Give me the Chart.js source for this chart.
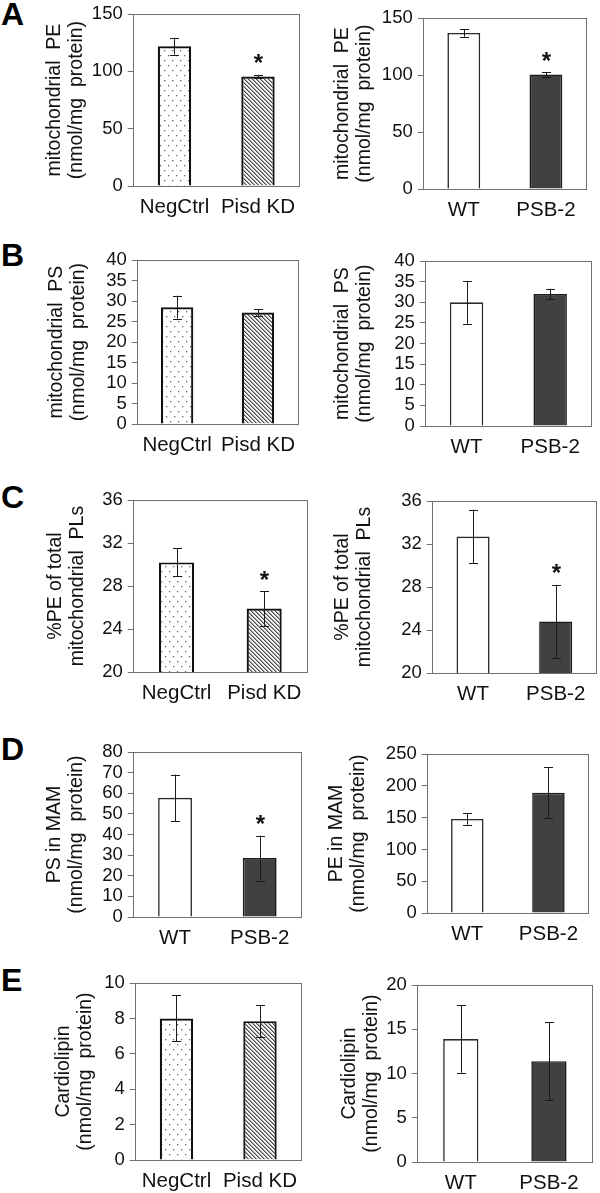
<!DOCTYPE html>
<html lang="en">
<head>
  <meta charset="UTF-8">
  <title>Mitochondrial phospholipids</title>
  <script src="https://cdn.jsdelivr.net/npm/chart.js"></script>
  <style>
    body {
      margin: 0;
      background: #fff;
      font-family: 'Liberation Sans', Arial, sans-serif;
    }
    #fig {
      position: relative;
      width: 600px;
      height: 1193px;
      overflow: hidden;
    }
    #fig canvas {
      position: absolute;
    }
    .letter {
      position: absolute;
      left: 1px;
      font-size: 32px;
      font-weight: bold;
      line-height: 32px;
      color: #000;
    }
  </style>
</head>
<body>
<div id="fig">
  <div class="letter" style="top:-2px">A</div>
  <div class="letter" style="top:239px">B</div>
  <div class="letter" style="top:481px">C</div>
  <div class="letter" style="top:733px">D</div>
  <div class="letter" style="top:964px">E</div>
</div>

<script>
  // categories
  const catsKD = ['NegCtrl', 'Pisd KD'];
  const catsPSB = ['WT', 'PSB-2'];

  // values (mean) and error (+/-)
  const mitoPE_KD = [122, 95.5];
  const mitoPE_KD_err = [7.3, 1.5];
  const mitoPE_PSB = [137, 100.5];
  const mitoPE_PSB_err = [3.4, 2];

  const mitoPS_KD = [28.5, 27.2];
  const mitoPS_KD_err = [2.8, 0.8];
  const mitoPS_PSB = [30, 32];
  const mitoPS_PSB_err = [5.2, 1.3];

  const pctPE_KD = [30.2, 25.9];
  const pctPE_KD_err = [1.3, 1.6];
  const pctPE_PSB = [32.7, 24.8];
  const pctPE_PSB_err = [2.5, 3.4];

  const mamPS_PSB = [57.8, 28.6];
  const mamPS_PSB_err = [11.3, 10.9];
  const mamPE_PSB = [148, 189];
  const mamPE_PSB_err = [9, 40];

  const cl_KD = [8.0, 7.85];
  const cl_KD_err = [1.3, 0.9];
  const cl_PSB = [13.9, 11.4];
  const cl_PSB_err = [3.8, 4.4];

  // significance stars
  const sigNone = [false, false];
  const sigSecond = [false, true];

  // y axis ticks
  const yPE = { min: 0, max: 150, step: 50 };
  const yPS = { min: 0, max: 40, step: 5 };
  const yPct = { min: 20, max: 36, step: 4 };
  const yMamPS = { min: 0, max: 80, step: 10 };
  const yMamPE = { min: 0, max: 250, step: 50 };
  const yClKD = { min: 0, max: 10, step: 2 };
  const yClPSB = { min: 0, max: 20, step: 5 };

  // axis titles
  const tMitoPE = ['mitochondrial  PE', '(nmol/mg  protein)'];
  const tMitoPS = ['mitochondrial  PS', '(nmol/mg  protein)'];
  const tPct = ['%PE of total', 'mitochondrial  PLs'];
  const tMamPS = ['PS in MAM', '(nmol/mg  protein)'];
  const tMamPE = ['PE in MAM', '(nmol/mg  protein)'];
  const tCl = ['Cardiolipin', '(nmol/mg  protein)'];

  // layout: box = plot area [left, top, right, bottom], tx = centre of first title line
  const panels = [
    { cats: catsKD, vals: mitoPE_KD, errs: mitoPE_KD_err, sig: sigSecond, y: yPE, title: tMitoPE, box: [133, 10, 301, 186], tx: 55 },
    { cats: catsPSB, vals: mitoPE_PSB, errs: mitoPE_PSB_err, sig: sigSecond, y: yPE, title: tMitoPE, box: [423, 14, 587, 189], tx: 343 },
    { cats: catsKD, vals: mitoPS_KD, errs: mitoPS_KD_err, sig: sigNone, y: yPS, title: tMitoPS, box: [137, 256, 301, 424], tx: 57 },
    { cats: catsPSB, vals: mitoPS_PSB, errs: mitoPS_PSB_err, sig: sigNone, y: yPS, title: tMitoPS, box: [425, 257, 592, 426], tx: 343 },
    { cats: catsKD, vals: pctPE_KD, errs: pctPE_KD_err, sig: sigSecond, y: yPct, title: tPct, box: [133, 496, 308, 672], tx: 56 },
    { cats: catsPSB, vals: pctPE_PSB, errs: pctPE_PSB_err, sig: sigSecond, y: yPct, title: tPct, box: [432, 497, 597, 673], tx: 343 },
    { cats: catsPSB, vals: mamPS_PSB, errs: mamPS_PSB_err, sig: sigSecond, y: yMamPS, title: tMamPS, box: [133, 748, 302, 917], tx: 55 },
    { cats: catsPSB, vals: mamPE_PSB, errs: mamPE_PSB_err, sig: sigNone, y: yMamPE, title: tMamPE, box: [427, 750, 589, 913], tx: 337 },
    { cats: catsKD, vals: cl_KD, errs: cl_KD_err, sig: sigNone, y: yClKD, title: tCl, box: [135, 979, 303, 1160], tx: 64 },
    { cats: catsPSB, vals: cl_PSB, errs: cl_PSB_err, sig: sigNone, y: yClPSB, title: tCl, box: [417, 981, 593, 1162], tx: 350 }
  ];

  const FONT = "'Liberation Sans', Arial, sans-serif";
  Chart.defaults.font.family = FONT;
  Chart.defaults.color = '#111';

  function makePattern(ctx, kind) {
    const c = document.createElement('canvas');
    const g = c.getContext('2d');
    if (kind === 'dots') {
      c.width = 8; c.height = 10;
      g.fillStyle = '#fff'; g.fillRect(0, 0, 8, 10);
      g.fillStyle = '#6a6a6a';
      g.fillRect(1, 2, 1.3, 1.3);
      g.fillRect(5, 7, 1.3, 1.3);
    } else {
      c.width = 4; c.height = 4;
      g.fillStyle = '#f4f4f4'; g.fillRect(0, 0, 4, 4);
      g.fillStyle = '#4a4a4a';
      for (let i = 0; i < 4; i++) g.fillRect(i, i, 1, 1);
      g.fillStyle = '#a0a0a0';
      for (let i = 0; i < 4; i++) g.fillRect((i + 1) % 4, i, 1, 1);
    }
    return ctx.createPattern(c, 'repeat');
  }

  // plot frame + error bars + stars
  const extras = {
    id: 'extras',
    afterDatasetsDraw(chart, args, opts) {
      const { ctx, chartArea: a } = chart;
      const ys = chart.scales.y;
      const meta = chart.getDatasetMeta(0);
      ctx.save();
      ctx.strokeStyle = '#707070';
      ctx.lineWidth = 1;
      ctx.strokeRect(Math.round(a.left) + 0.5, Math.round(a.top) + 0.5,
        Math.round(a.right - a.left) - 1, Math.round(a.bottom - a.top));
      ctx.strokeStyle = '#1a1a1a';
      ctx.fillStyle = '#111';
      meta.data.forEach((bar, i) => {
        const v = opts.vals[i], e = opts.errs[i];
        const x = Math.round(bar.x) + 0.5;
        const yt = ys.getPixelForValue(v + e);
        const yb = ys.getPixelForValue(v - e);
        ctx.beginPath();
        ctx.moveTo(x, yt); ctx.lineTo(x, yb);
        ctx.moveTo(x - 4.5, Math.round(yt) + 0.5); ctx.lineTo(x + 4.5, Math.round(yt) + 0.5);
        ctx.moveTo(x - 4.5, Math.round(yb) + 0.5); ctx.lineTo(x + 4.5, Math.round(yb) + 0.5);
        ctx.stroke();
        if (opts.sig[i]) {
          ctx.font = 'bold 24px ' + FONT;
          ctx.textAlign = 'center';
          ctx.textBaseline = 'alphabetic';
          ctx.fillText('*', x, yt - 17 + 13.5);
        }
      });
      ctx.restore();
    }
  };

  const styleFor = {
    'NegCtrl': { fill: 'dots', border: '#111', width: 2.2 },
    'Pisd KD': { fill: 'hatch', border: '#111', width: 2.2 },
    'WT': { fill: '#ffffff', border: '#2a2a2a', width: 1.6 },
    'PSB-2': { fill: '#414141', border: '#1a1a1a', width: 1.6 }
  };

  const fig = document.getElementById('fig');
  const titleLH = 1.1, titleSize = 19.5;
  const PT = 12, PR = 4, XH = 40;

  panels.forEach(p => {
    const [l, t, r, b] = p.box;
    const cl = p.tx - titleSize * titleLH / 2 - 1;
    const L = l - cl;
    const canvas = document.createElement('canvas');
    canvas.width = Math.round(r - l + L + PR);
    canvas.height = b - t + PT + XH;
    canvas.style.left = Math.round(cl) + 'px';
    canvas.style.top = (t - PT) + 'px';
    fig.appendChild(canvas);
    const ctx = canvas.getContext('2d');

    const fills = p.cats.map(c => {
      const f = styleFor[c].fill;
      return (f === 'dots' || f === 'hatch') ? makePattern(ctx, f) : f;
    });

    new Chart(ctx, {
      type: 'bar',
      data: {
        labels: p.cats,
        datasets: [{
          data: p.vals,
          backgroundColor: fills,
          borderColor: p.cats.map(c => styleFor[c].border),
          borderWidth: p.cats.map(c => styleFor[c].width),
          categoryPercentage: 0.8,
          barPercentage: 0.5
        }]
      },
      options: {
        responsive: false,
        animation: false,
        events: [],
        layout: { padding: { top: PT, right: PR, left: 0, bottom: 0 } },
        plugins: {
          legend: { display: false },
          tooltip: { enabled: false },
          extras: { vals: p.vals, errs: p.errs, sig: p.sig }
        },
        scales: {
          x: {
            grid: { display: false, drawTicks: false },
            border: { display: false },
            ticks: { font: { size: 20.5 }, padding: 9, color: '#111' },
            afterFit(s) { s.height = XH; }
          },
          y: {
            min: p.y.min,
            max: p.y.max,
            grid: { drawOnChartArea: false, drawTicks: true, tickLength: 5, color: '#707070' },
            border: { display: false },
            ticks: { stepSize: p.y.step, autoSkip: false, font: { size: 18.5 }, padding: 5, color: '#111' },
            title: {
              display: true,
              text: p.title,
              font: { size: titleSize, lineHeight: titleLH },
              color: '#111',
              padding: { top: 1, bottom: 0 }
            },
            afterFit(s) { s.width = L; }
          }
        }
      },
      plugins: [extras]
    });
  });
</script>
</body>
</html>
